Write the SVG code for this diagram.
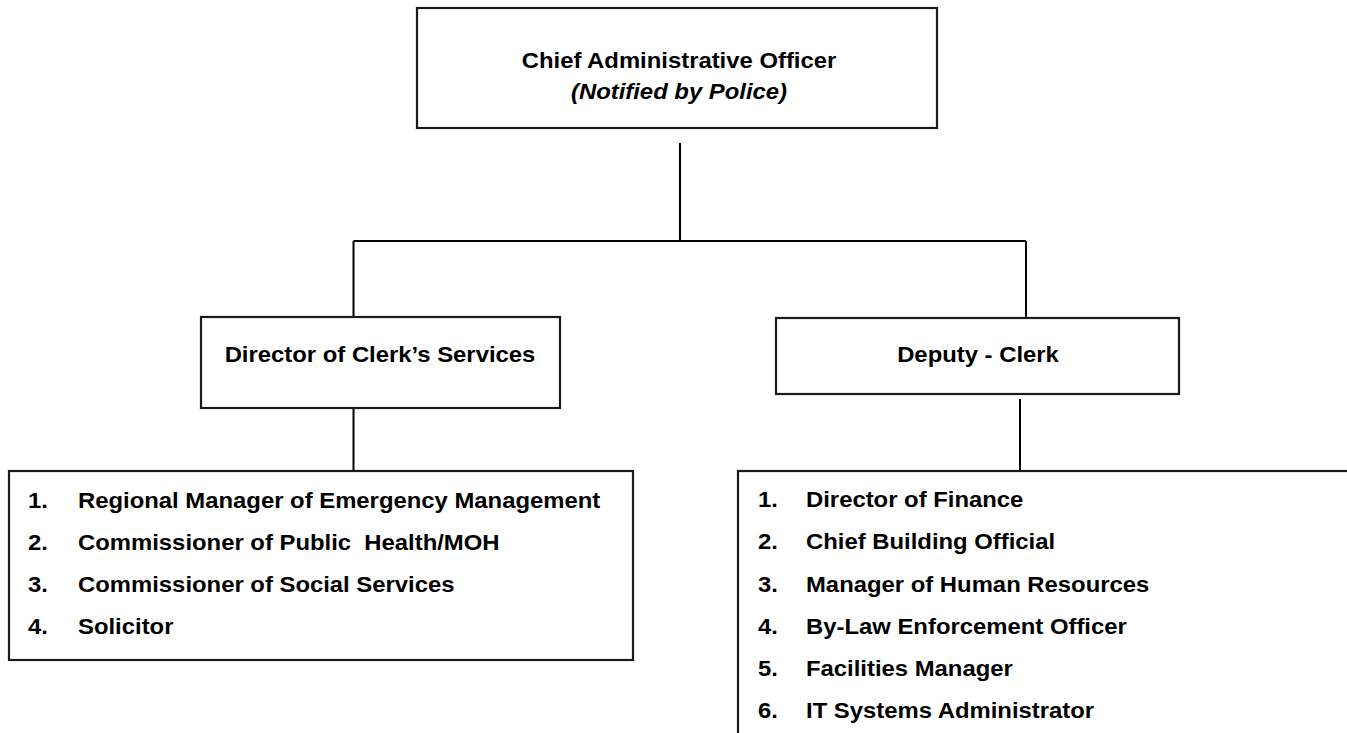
<svg xmlns="http://www.w3.org/2000/svg" width="1347" height="733" viewBox="0 0 1347 733">
<style>
  .box { fill: #ffffff; stroke: #1a1a1a; stroke-width: 2.2; }
  .conn { stroke: #000000; stroke-width: 2; fill: none; }
  .t { font-family: "Liberation Sans", Arial, sans-serif; font-weight: bold; font-size: 21.5px; fill: #000000; white-space: pre; }
  .c { text-anchor: middle; }
  .i { font-style: italic; }
</style>
<rect width="1347" height="733" fill="#ffffff"/>
<g id="connectors">
  <line class="conn" x1="680" y1="143" x2="680" y2="241"/>
  <line class="conn" x1="353.5" y1="241" x2="1026" y2="241"/>
  <line class="conn" x1="353.5" y1="241" x2="353.5" y2="317"/>
  <line class="conn" x1="1026" y1="241" x2="1026" y2="318"/>
  <line class="conn" x1="353.5" y1="406" x2="353.5" y2="471"/>
  <line class="conn" x1="1020" y1="399" x2="1020" y2="471"/>
</g>
<g id="cao">
  <rect class="box" x="417" y="8" width="520" height="120"/>
  <text class="t c" transform="translate(679,68) scale(1.11,1)">Chief Administrative Officer</text>
  <text class="t c i" transform="translate(679,99) scale(1.11,1)">(Notified by Police)</text>
</g>
<g id="director">
  <rect class="box" x="201" y="317" width="359" height="91"/>
  <text class="t c" transform="translate(380,362) scale(1.11,1)">Director of Clerk’s Services</text>
</g>
<g id="deputy">
  <rect class="box" x="776" y="318" width="403" height="76"/>
  <text class="t c" transform="translate(978,362) scale(1.11,1)">Deputy - Clerk</text>
</g>
<g id="director-list">
  <rect class="box" x="9" y="471" width="624" height="189"/>
  <text class="t" transform="translate(28,507.5) scale(1.11,1)">1.</text>
  <text class="t" transform="translate(78,507.5) scale(1.11,1)">Regional Manager of Emergency Management</text>
  <text class="t" transform="translate(28,549.5) scale(1.11,1)">2.</text>
  <text class="t" xml:space="preserve" transform="translate(78,549.5) scale(1.11,1)">Commissioner of Public  Health/MOH</text>
  <text class="t" transform="translate(28,591.7) scale(1.11,1)">3.</text>
  <text class="t" transform="translate(78,591.7) scale(1.11,1)">Commissioner of Social Services</text>
  <text class="t" transform="translate(28,634) scale(1.11,1)">4.</text>
  <text class="t" transform="translate(78,634) scale(1.11,1)">Solicitor</text>
</g>
<g id="deputy-list">
  <rect class="box" x="738" y="471" width="640" height="300"/>
  <text class="t" transform="translate(758,507) scale(1.11,1)">1.</text>
  <text class="t" transform="translate(806,507) scale(1.11,1)">Director of Finance</text>
  <text class="t" transform="translate(758,549) scale(1.11,1)">2.</text>
  <text class="t" transform="translate(806,549) scale(1.11,1)">Chief Building Official</text>
  <text class="t" transform="translate(758,591.5) scale(1.11,1)">3.</text>
  <text class="t" transform="translate(806,591.5) scale(1.11,1)">Manager of Human Resources</text>
  <text class="t" transform="translate(758,634) scale(1.11,1)">4.</text>
  <text class="t" transform="translate(806,634) scale(1.11,1)">By-Law Enforcement Officer</text>
  <text class="t" transform="translate(758,676) scale(1.11,1)">5.</text>
  <text class="t" transform="translate(806,676) scale(1.11,1)">Facilities Manager</text>
  <text class="t" transform="translate(758,718) scale(1.11,1)">6.</text>
  <text class="t" transform="translate(806,718) scale(1.11,1)">IT Systems Administrator</text>
</g>
</svg>
